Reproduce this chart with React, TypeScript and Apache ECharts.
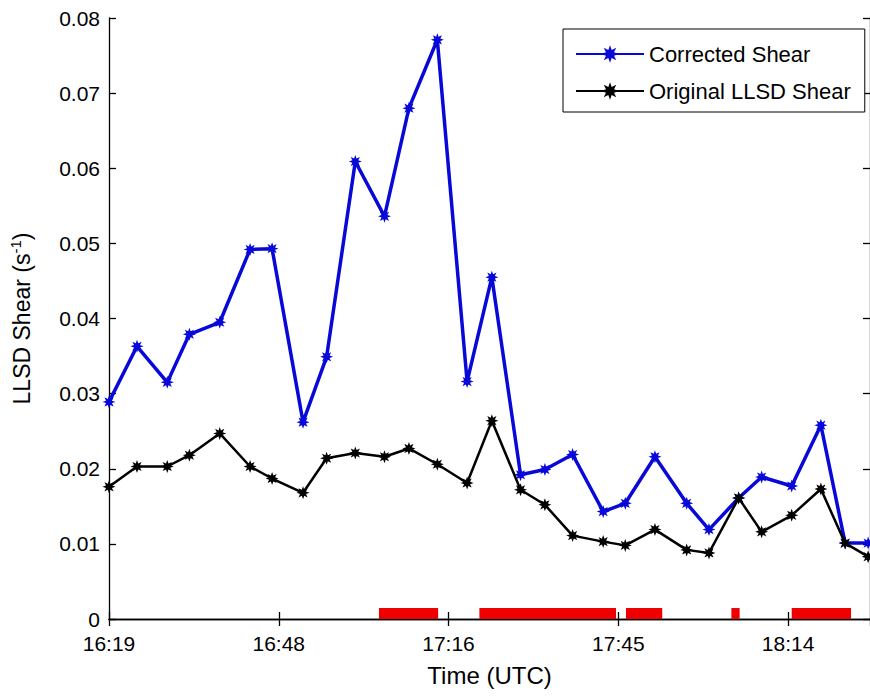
import React, { useEffect, useRef } from "react";
import * as echarts from "echarts";

// Sample times (UTC)
const times = [
  "16:19:12", "16:23:57", "16:29:05", "16:32:50", "16:37:59", "16:43:08", "16:46:52",
  "16:52:07", "16:56:07", "17:00:59", "17:05:56", "17:10:05", "17:14:54", "17:19:57",
  "17:24:09", "17:29:01", "17:33:09", "17:37:51", "17:43:02", "17:46:47", "17:51:49",
  "17:57:12", "18:00:59", "18:06:01", "18:09:55", "18:15:01", "18:19:58", "18:24:05",
  "18:27:59",
];

// Corrected shear (s^-1)
const correctedShear = [
  0.0289, 0.0363, 0.0315, 0.0379, 0.0395, 0.0492, 0.0493,
  0.0262, 0.0349, 0.0609, 0.0536, 0.0680, 0.0771, 0.0316,
  0.0455, 0.0192, 0.0199, 0.0219, 0.0143, 0.0154, 0.0216,
  0.0154, 0.0119, 0.0161, 0.0189, 0.0177, 0.0258, 0.0101,
  0.0101,
];

// Original LLSD shear (s^-1)
const originalShear = [
  0.0176, 0.0203, 0.0203, 0.0218, 0.0247, 0.0203, 0.0187,
  0.0168, 0.0214, 0.0221, 0.0216, 0.0227, 0.0206, 0.0181,
  0.0264, 0.0172, 0.0152, 0.0111, 0.0103, 0.0098, 0.0119,
  0.0092, 0.0088, 0.0161, 0.0116, 0.0138, 0.0173, 0.0101,
  0.0083,
];

// Flagged periods shown as red bars along the time axis
const flaggedPeriods = [
  ["17:05:00", "17:15:02"],
  ["17:22:02", "17:45:13"],
  ["17:46:54", "17:53:03"],
  ["18:04:47", "18:06:11"],
  ["18:15:01", "18:25:05"],
];
const flagBarHeight = 0.00146;

// Axis settings (minutes after midnight)
const xAxisMin = 979.2; // 16:19:12
const xAxisMax = 1108.3;
const xTickStep = 28.8;
const yTicks = [0, 0.01, 0.02, 0.03, 0.04, 0.05, 0.06, 0.07, 0.08];

const toMinutes = (s: string) => {
  const [h, m, sec] = s.split(":").map(Number);
  return h * 60 + m + (sec || 0) / 60;
};

const fmtTime = (v: number) => {
  const total = Math.floor(v + 1e-6);
  const h = Math.floor(total / 60);
  const m = total % 60;
  return `${h}:${m < 10 ? "0" + m : m}`;
};

const STAR =
  "path://M10 0 L4.6 1.9 L7.07 7.07 L1.9 4.6 L0 10 L-1.9 4.6 L-7.07 7.07 L-4.6 1.9 L-10 0 L-4.6 -1.9 L-7.07 -7.07 L-1.9 -4.6 L0 -10 L1.9 -4.6 L7.07 -7.07 L4.6 -1.9 Z";

const FONT = "'Liberation Sans', Arial, Helvetica, sans-serif";

export default function App() {
  const ref = useRef<HTMLDivElement>(null);

  useEffect(() => {
    if (!ref.current) return;
    const chart = echarts.init(ref.current, undefined, { renderer: "svg" });

    const xs = times.map(toMinutes);
    const blueData = xs.map((x, i) => [x, correctedShear[i]]);
    const blackData = xs.map((x, i) => [x, originalShear[i]]);
    const flagData = flaggedPeriods.map(([a, b]) => [toMinutes(a), toMinutes(b), flagBarHeight]);

    const axisLine = { show: true, lineStyle: { color: "#000", width: 1.3 } };
    const axisTick = { show: true, inside: true, length: 7, lineStyle: { color: "#000", width: 1.3 } };

    chart.setOption({
      animation: false,
      backgroundColor: "#fff",
      textStyle: { fontFamily: FONT, color: "#000" },
      grid: { left: 102, top: 18, right: -2, bottom: 79, containLabel: false },
      legend: {
        orient: "vertical",
        left: 563,
        top: 29,
        padding: [14, 14, 10, 12],
        itemGap: 15,
        itemWidth: 68,
        itemHeight: 22,
        borderColor: "#000",
        borderWidth: 1,
        backgroundColor: "#fff",
        textStyle: { fontSize: 22, color: "#000", fontFamily: FONT },
        data: ["Corrected Shear", "Original LLSD Shear"],
      },
      xAxis: [
        {
          type: "value",
          min: xAxisMin,
          max: xAxisMax,
          interval: xTickStep,
          name: "Time (UTC)",
          nameLocation: "middle",
          nameGap: 44,
          nameTextStyle: { fontSize: 24, color: "#000", fontFamily: FONT },
          axisLine,
          axisTick,
          axisLabel: {
            fontSize: 21,
            color: "#000",
            margin: 14,
            showMaxLabel: false,
            formatter: (v: number) => fmtTime(v),
          },
          splitLine: { show: false },
        },
        {
          type: "value",
          position: "top",
          min: xAxisMin,
          max: xAxisMax,
          interval: xTickStep,
          axisLine,
          axisTick,
          axisLabel: { show: false },
          splitLine: { show: false },
        },
      ],
      yAxis: [
        {
          type: "value",
          min: yTicks[0],
          max: yTicks[yTicks.length - 1],
          interval: 0.01,
          name: "{a|LLSD Shear (s}{b|-1}{a|)}",
          nameLocation: "middle",
          nameGap: 74,
          nameTextStyle: {
            rich: {
              a: { fontSize: 23, color: "#000", fontFamily: FONT, lineHeight: 27 },
              b: { fontSize: 15, color: "#000", fontFamily: FONT, verticalAlign: "top", lineHeight: 27 },
            },
          },
          axisLine,
          axisTick,
          axisLabel: {
            fontSize: 21,
            color: "#000",
            margin: 9,
            formatter: (v: number) => (v === 0 ? "0" : v.toFixed(2)),
          },
          splitLine: { show: false },
        },
        {
          type: "value",
          position: "right",
          min: yTicks[0],
          max: yTicks[yTicks.length - 1],
          interval: 0.01,
          axisLine,
          axisTick,
          axisLabel: { show: false },
          splitLine: { show: false },
        },
      ],
      series: [
        {
          name: "Flagged",
          type: "custom",
          xAxisIndex: 0,
          yAxisIndex: 0,
          data: flagData,
          z: 1,
          renderItem: (params: any, api: any) => {
            const p0 = api.coord([api.value(0), 0]);
            const p1 = api.coord([api.value(1), api.value(2)]);
            return {
              type: "rect",
              shape: { x: p0[0], y: p1[1], width: p1[0] - p0[0], height: p0[1] - p1[1] },
              style: { fill: "#ee0000" },
            };
          },
        },
        {
          name: "Corrected Shear",
          type: "line",
          data: blueData,
          symbol: STAR,
          symbolSize: 13,
          showAllSymbol: true,
          lineStyle: { color: "#0808d8", width: 3.5 },
          itemStyle: { color: "#0808d8" },
          z: 3,
        },
        {
          name: "Original LLSD Shear",
          type: "line",
          data: blackData,
          symbol: STAR,
          symbolSize: 13,
          showAllSymbol: true,
          lineStyle: { color: "#000", width: 2.5 },
          itemStyle: { color: "#000" },
          z: 4,
        },
      ],
    });

    return () => chart.dispose();
  }, []);

  return (
    <div
      ref={ref}
      style={{ position: "fixed", left: 0, top: 0, width: 870, height: 698, background: "#fff" }}
    />
  );
}
